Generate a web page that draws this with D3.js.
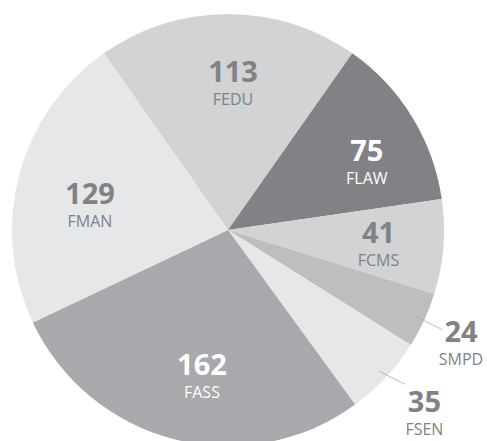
<!DOCTYPE html>
<html>
<head>
<meta charset="utf-8">
<script src="https://cdn.jsdelivr.net/npm/d3@7"></script>
<style>
	html, body { margin: 0; padding: 0; background: #fff; }
	#chart { width: 487px; height: 441px; }
	text { font-family: "Open Sans", sans-serif; }
</style>
</head>
<body>
<div id="chart"></div>
<script>
// ###
// DATA
// ###

const categories = ['FEDU', 'FLAW', 'FCMS', 'SMPD', 'FSEN', 'FASS', 'FMAN'];
const values = [113, 75, 41, 24, 35, 162, 129];
const outside = ['SMPD', 'FSEN'];

// ###
// LAYOUT / STYLE
// ###

const width = 487,
	height = 441,
	cx = 228,
	cy = 230,
	radius = 216,
	labelRadius = 150,
	outerLabelRadius = 262;

const fills = {
	FEDU: '#d1d3d4', FLAW: '#808285', FCMS: '#d1d3d4', SMPD: '#bcbec0',
	FSEN: '#e6e7e8', FASS: '#a7a9ac', FMAN: '#e6e7e8'
};
const textColors = { FLAW: '#ffffff', FASS: '#ffffff' };
// small hand nudges, the original labels are not exactly on the mid angle
const nudge = {
	FEDU: [5, 3], FLAW: [11, 10], FCMS: [1, 2], FMAN: [7, 13], FASS: [11, 1],
	SMPD: [-5, 3], FSEN: [5, 4]
};

const data = categories.map((c, i) => ({ name: c, value: values[i] }));
const total = d3.sum(values);
const firstAngle = values[0] / total * Math.PI;

const svg = d3.select('#chart').append('svg')
	.attr('width', width)
	.attr('height', height);

const g = svg.append('g')
	.attr('transform', `translate(${cx}, ${cy})`);

const pie = d3.pie()
	.value(d => d.value)
	.sort(null)
	.startAngle(-firstAngle)
	.endAngle(2 * Math.PI - firstAngle);

const arcs = pie(data);

const arc = d3.arc().innerRadius(0).outerRadius(radius);

g.selectAll('path.slice')
	.data(arcs)
	.join('path')
	.attr('class', 'slice')
	.attr('d', arc)
	.attr('fill', d => fills[d.data.name]);

const mid = d => (d.startAngle + d.endAngle) / 2;
const polar = (a, r) => [Math.sin(a) * r, -Math.cos(a) * r];

// leader lines for the thin slices
const leaders = arcs.filter(d => outside.includes(d.data.name));

g.selectAll('line.leader')
	.data(leaders)
	.join('line')
	.attr('class', 'leader')
	.attr('x1', d => polar(mid(d), 207)[0])
	.attr('y1', d => polar(mid(d), 207)[1])
	.attr('x2', d => polar(mid(d), 207)[0] + 26)
	.attr('y2', d => polar(mid(d), 207)[1] + 13)
	.attr('stroke', '#a7a9ac')
	.attr('stroke-width', 0.8);

// labels
const labels = g.selectAll('g.label')
	.data(arcs)
	.join('g')
	.attr('class', 'label')
	.attr('transform', d => {
		const r = outside.includes(d.data.name) ? outerLabelRadius : labelRadius;
		const p = polar(mid(d), r);
		const n = nudge[d.data.name] || [0, 0];
		return `translate(${p[0] + n[0]}, ${p[1] + n[1]})`;
	});

labels.append('text')
	.attr('text-anchor', 'middle')
	.attr('y', -1)
	.attr('font-size', 29)
	.attr('font-weight', 700)
	.attr('fill', d => textColors[d.data.name] || '#808285')
	.text(d => d.data.value);

labels.append('text')
	.attr('text-anchor', 'middle')
	.attr('y', 22)
	.attr('font-size', 16)
	.attr('fill', d => textColors[d.data.name] || '#808285')
	.text(d => d.data.name);
</script>
</body>
</html>
